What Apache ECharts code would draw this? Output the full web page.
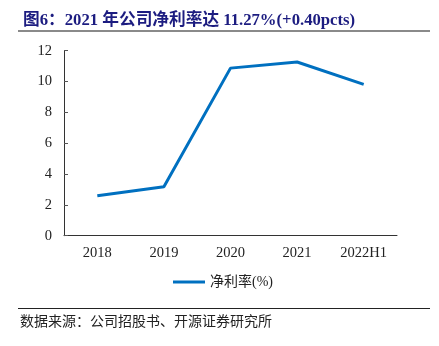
<!DOCTYPE html>
<html>
<head>
<meta charset="utf-8">
<script src="https://cdn.jsdelivr.net/npm/echarts@6/dist/echarts.min.js"></script>
<style>
  html, body { margin: 0; padding: 0; background: #fff; }
  #chart { width: 439px; height: 346px; }
</style>
</head>
<body>
<div id="chart"></div>
<script>
// Net profit margin by period
const categories = ['2018', '2019', '2020', '2021', '2022H1'];
const netMargin = [2.59, 3.18, 10.87, 11.27, 9.82];
const seriesName = '净利率(%)';
const titleText = '图6：2021 年公司净利率达 11.27%(+0.40pcts)';
const sourceText = '数据来源：公司招股书、开源证券研究所';

const latinFont = '"Liberation Serif", "Times New Roman", "Noto Sans CJK SC", serif';
const chart = echarts.init(document.getElementById('chart'), null, { renderer: 'canvas' });

chart.setOption({
  animation: false,
  backgroundColor: '#fff',
  title: {
    text: titleText,
    left: 18,
    top: 7,
    textStyle: {
      fontFamily: latinFont,
      fontSize: 16.7,
      fontWeight: 'bold',
      color: '#1c1c80'
    }
  },
  graphic: [
    { type: 'line', shape: { x1: 18, y1: 31, x2: 430, y2: 31 }, style: { stroke: '#8a8a8a', lineWidth: 2 } },
    { type: 'line', shape: { x1: 18, y1: 308.5, x2: 430, y2: 308.5 }, style: { stroke: '#222', lineWidth: 1 } },
    {
      type: 'text', left: 20, top: 314,
      style: { text: sourceText, fontFamily: '"Noto Sans CJK SC", sans-serif', fontSize: 14, fill: '#222' }
    }
  ],
  legend: {
    data: [seriesName],
    bottom: 52,
    left: 168,
    itemWidth: 32,
    itemHeight: 3,
    itemGap: 5,
    icon: 'rect',
    textStyle: { fontFamily: latinFont, fontSize: 14, color: '#222' }
  },
  grid: { left: 64, right: 42, top: 50.7, bottom: 110.3, containLabel: false },
  xAxis: {
    type: 'category',
    data: categories,
    boundaryGap: true,
    axisLine: { lineStyle: { color: '#333', width: 1 } },
    axisTick: { inside: true, length: 4, lineStyle: { color: '#555' } },
    axisLabel: { fontFamily: latinFont, fontSize: 14.5, color: '#222', margin: 10 }
  },
  yAxis: {
    type: 'value',
    min: 0, max: 12, interval: 2,
    splitLine: { show: false },
    axisLine: { show: true, lineStyle: { color: '#333', width: 1 } },
    axisTick: { show: true, inside: true, length: 4, lineStyle: { color: '#555' } },
    axisLabel: { fontFamily: latinFont, fontSize: 14.5, color: '#222', margin: 12 }
  },
  series: [{
    name: seriesName,
    type: 'line',
    data: netMargin,
    symbol: 'none',
    lineStyle: { color: '#0070c0', width: 3 },
    itemStyle: { color: '#0070c0' }
  }]
});
</script>
</body>
</html>
